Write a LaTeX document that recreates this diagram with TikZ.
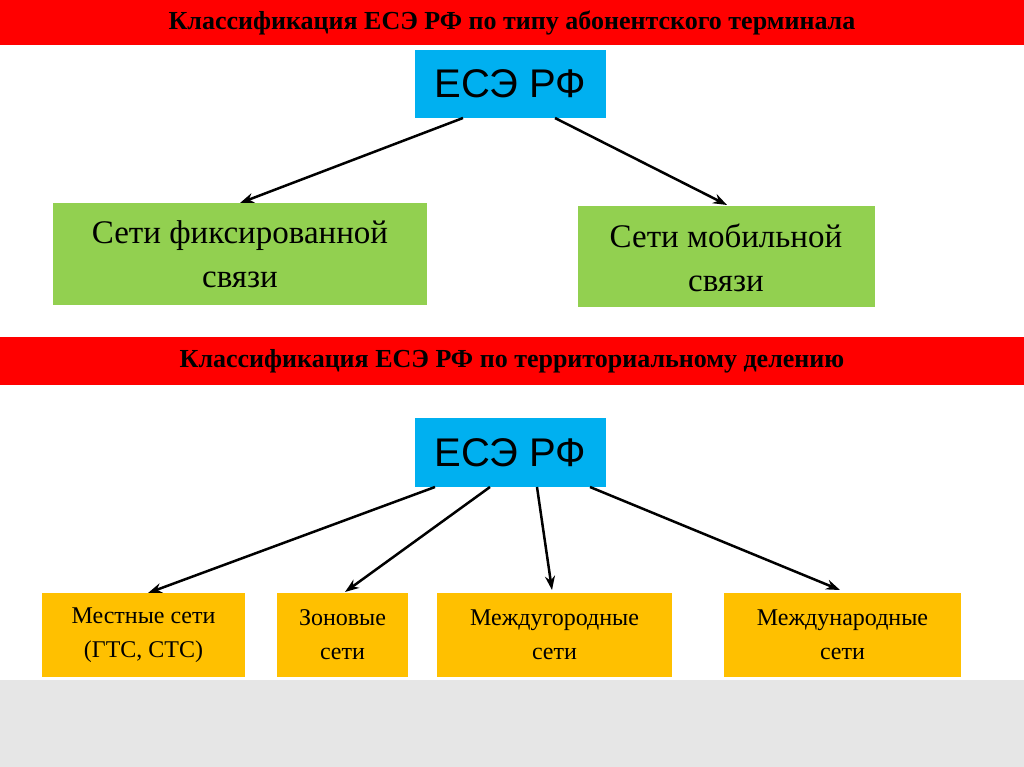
\documentclass[tikz,border=0pt]{standalone}
\usepackage{fontspec}
\usetikzlibrary{arrows.meta}
\setmainfont{Liberation Serif}
\newfontfamily\lsans{Liberation Sans}
\definecolor{rbar}{RGB}{255,0,0}
\definecolor{cyanb}{RGB}{0,176,240}
\definecolor{greenb}{RGB}{146,208,80}
\definecolor{yellowb}{RGB}{255,192,0}
\definecolor{grayb}{RGB}{230,230,230}
\begin{document}
\begin{tikzpicture}[x=1pt,y=-1pt,
  rootfont/.style={font=\lsans\fontsize{40}{44}\selectfont},
  gfont/.style={font=\fontsize{33}{44}\selectfont,align=center},
  yfont/.style={font=\fontsize{24}{34}\selectfont,align=center},
  tfont/.style={font=\bfseries\fontsize{26}{30}\selectfont},
  arr/.style={-{Stealth[length=14pt,width=10pt]},line width=2.5pt}]
\useasboundingbox (0,0) rectangle (1024,767);
\fill[grayb] (0,680) rectangle (1024,767);
\fill[rbar] (0,0) rectangle (1024,45);
\node[tfont] (t1) at (512,23) {Классификация ЕСЭ РФ по типу абонентского терминала};
\fill[rbar] (0,337) rectangle (1024,385);
\node[tfont] (t2) at (512,361) {Классификация ЕСЭ РФ по территориальному делению};
\fill[cyanb] (415,50) rectangle (606,118);
\node[rootfont] (r1) at (510.5,84) {ЕСЭ РФ};
\fill[greenb] (53,203) rectangle (427,305);
\node[gfont] (g1) at (240,254) {Сети фиксированной\\связи};
\fill[greenb] (578,206) rectangle (875,307);
\node[gfont] (g2) at (726,258) {Сети мобильной\\связи};
\coordinate (a1) at (463,118); \coordinate (a2) at (555,118);
\coordinate (e1) at (240,203); \coordinate (e2) at (727,205);
\draw[arr] (a1) -- (e1);
\draw[arr] (a2) -- (e2);
\fill[cyanb] (415,418) rectangle (606,487);
\node[rootfont] (r2) at (510.5,453) {ЕСЭ РФ};
\fill[yellowb] (42,593) rectangle (245,677);
\node[yfont] (y1) at (143.5,635) {Местные сети\\(ГТС, СТС)};
\fill[yellowb] (277,593) rectangle (408,677);
\node[yfont] (y2) at (342.5,635) {Зоновые\\сети};
\fill[yellowb] (437,593) rectangle (672,677);
\node[yfont] (y3) at (554.5,635) {Междугородные\\сети};
\fill[yellowb] (724,593) rectangle (961,677);
\node[yfont] (y4) at (842.5,635) {Международные\\сети};
\coordinate (b1) at (435,487); \coordinate (b2) at (490,487);
\coordinate (b3) at (537,487); \coordinate (b4) at (590,487);
\coordinate (f1) at (148,593); \coordinate (f2) at (345,592);
\coordinate (f3) at (552,590); \coordinate (f4) at (840,590);
\draw[arr] (b1) -- (f1);
\draw[arr] (b2) -- (f2);
\draw[arr] (b3) -- (f3);
\draw[arr] (b4) -- (f4);
\end{tikzpicture}
\end{document}
